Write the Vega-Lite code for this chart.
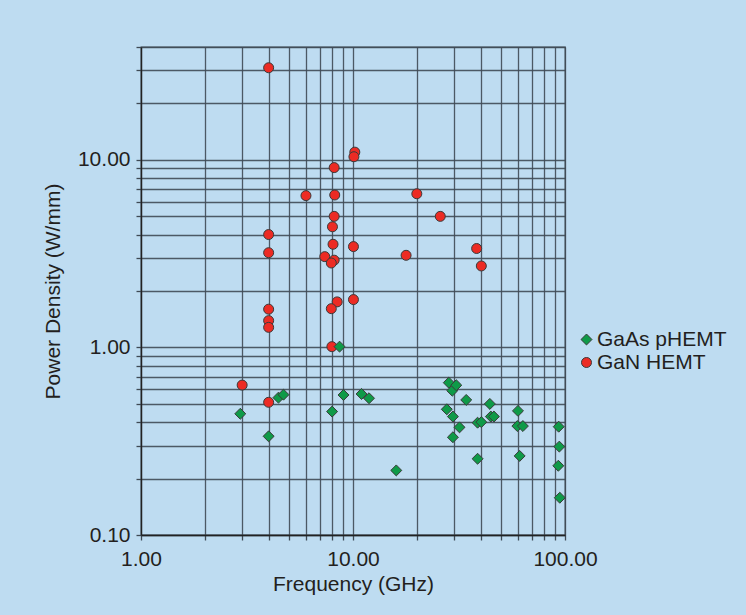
{
  "$schema": "https://vega.github.io/schema/vega-lite/v6.json",
  "width": 424,
  "height": 488,
  "autosize": "none",
  "padding": {"left": 141, "top": 47, "right": 181, "bottom": 80},
  "background": "#BEDCF1",
  "config": {
    "view": {"stroke": "#3f4a55", "strokeWidth": 1.3},
    "font": "Liberation Sans",
    "axis": {
      "labelFont": "Liberation Sans",
      "labelFontSize": 21,
      "labelColor": "#231f20",
      "titleFont": "Liberation Sans",
      "titleFontSize": 21,
      "titleFontWeight": "normal",
      "titleColor": "#231f20",
      "gridColor": "#3f4a55",
      "gridWidth": 1.3,
      "gridOpacity": 0.9,
      "tickColor": "#3f4a55",
      "tickSize": 5,
      "tickWidth": 1.3,
      "domainColor": "#222222",
      "domainWidth": 1.3,
      "labelOverlap": false,
      "labelFlush": false
    }
  },
  "data": {
    "values": [
      {"device": "GaN HEMT", "freq": 4, "power": 31},
      {"device": "GaN HEMT", "freq": 6, "power": 6.45},
      {"device": "GaN HEMT", "freq": 4, "power": 4.0},
      {"device": "GaN HEMT", "freq": 4, "power": 3.2},
      {"device": "GaN HEMT", "freq": 10.2, "power": 11.0},
      {"device": "GaN HEMT", "freq": 10.1, "power": 10.4},
      {"device": "GaN HEMT", "freq": 8.15, "power": 9.1},
      {"device": "GaN HEMT", "freq": 8.2, "power": 6.5},
      {"device": "GaN HEMT", "freq": 20, "power": 6.6},
      {"device": "GaN HEMT", "freq": 8.15, "power": 5.0},
      {"device": "GaN HEMT", "freq": 25.8, "power": 5.0},
      {"device": "GaN HEMT", "freq": 8.0, "power": 4.4},
      {"device": "GaN HEMT", "freq": 8.05, "power": 3.55},
      {"device": "GaN HEMT", "freq": 10.05, "power": 3.45},
      {"device": "GaN HEMT", "freq": 38.3, "power": 3.37},
      {"device": "GaN HEMT", "freq": 7.36, "power": 3.05},
      {"device": "GaN HEMT", "freq": 17.8, "power": 3.1},
      {"device": "GaN HEMT", "freq": 8.15, "power": 2.92},
      {"device": "GaN HEMT", "freq": 7.9, "power": 2.82},
      {"device": "GaN HEMT", "freq": 40.3, "power": 2.72},
      {"device": "GaN HEMT", "freq": 10.05, "power": 1.8},
      {"device": "GaN HEMT", "freq": 8.42, "power": 1.75},
      {"device": "GaN HEMT", "freq": 7.9, "power": 1.61},
      {"device": "GaN HEMT", "freq": 4, "power": 1.6},
      {"device": "GaN HEMT", "freq": 4, "power": 1.39},
      {"device": "GaN HEMT", "freq": 4, "power": 1.28},
      {"device": "GaN HEMT", "freq": 3.0, "power": 0.63},
      {"device": "GaN HEMT", "freq": 4, "power": 0.51},
      {"device": "GaN HEMT", "freq": 7.95, "power": 1.01},
      {"device": "GaAs pHEMT", "freq": 2.94, "power": 0.443},
      {"device": "GaAs pHEMT", "freq": 4, "power": 0.336},
      {"device": "GaAs pHEMT", "freq": 4.45, "power": 0.54},
      {"device": "GaAs pHEMT", "freq": 4.7, "power": 0.56},
      {"device": "GaAs pHEMT", "freq": 7.97, "power": 0.455},
      {"device": "GaAs pHEMT", "freq": 8.64, "power": 1.01},
      {"device": "GaAs pHEMT", "freq": 9.02, "power": 0.558},
      {"device": "GaAs pHEMT", "freq": 10.97, "power": 0.565},
      {"device": "GaAs pHEMT", "freq": 11.9, "power": 0.536},
      {"device": "GaAs pHEMT", "freq": 16.0, "power": 0.221},
      {"device": "GaAs pHEMT", "freq": 28.3, "power": 0.649},
      {"device": "GaAs pHEMT", "freq": 29.4, "power": 0.588},
      {"device": "GaAs pHEMT", "freq": 30.7, "power": 0.629},
      {"device": "GaAs pHEMT", "freq": 27.7, "power": 0.468},
      {"device": "GaAs pHEMT", "freq": 29.6, "power": 0.428},
      {"device": "GaAs pHEMT", "freq": 31.8, "power": 0.375},
      {"device": "GaAs pHEMT", "freq": 29.6, "power": 0.332},
      {"device": "GaAs pHEMT", "freq": 34.2, "power": 0.525},
      {"device": "GaAs pHEMT", "freq": 38.7, "power": 0.397},
      {"device": "GaAs pHEMT", "freq": 40.3, "power": 0.4},
      {"device": "GaAs pHEMT", "freq": 38.7, "power": 0.255},
      {"device": "GaAs pHEMT", "freq": 44.2, "power": 0.5},
      {"device": "GaAs pHEMT", "freq": 44.7, "power": 0.428},
      {"device": "GaAs pHEMT", "freq": 46.2, "power": 0.428},
      {"device": "GaAs pHEMT", "freq": 60, "power": 0.459},
      {"device": "GaAs pHEMT", "freq": 59.6, "power": 0.381},
      {"device": "GaAs pHEMT", "freq": 63.3, "power": 0.381},
      {"device": "GaAs pHEMT", "freq": 61.1, "power": 0.264},
      {"device": "GaAs pHEMT", "freq": 93.4, "power": 0.378},
      {"device": "GaAs pHEMT", "freq": 94, "power": 0.296},
      {"device": "GaAs pHEMT", "freq": 93, "power": 0.234},
      {"device": "GaAs pHEMT", "freq": 94.5, "power": 0.158}
    ]
  },
  "mark": {"type": "point", "filled": true, "stroke": "#3a3a3a", "strokeWidth": 1, "opacity": 1},
  "encoding": {
    "x": {
      "field": "freq",
      "type": "quantitative",
      "scale": {"type": "log", "domain": [1, 100], "nice": false},
      "axis": {
        "title": "Frequency (GHz)",
        "values": [1, 2, 3, 4, 5, 6, 7, 8, 9, 10, 20, 30, 40, 50, 60, 70, 80, 90, 100],
        "labelExpr": "datum.value == 1 || datum.value == 10 || datum.value == 100 ? format(datum.value, '.2f') : ''",
        "labelPadding": 8,
        "titlePadding": 4
      }
    },
    "y": {
      "field": "power",
      "type": "quantitative",
      "scale": {"type": "log", "domain": [0.1, 40], "nice": false},
      "axis": {
        "title": "Power Density (W/mm)",
        "values": [0.1, 0.2, 0.3, 0.4, 0.5, 0.6, 0.7, 0.8, 0.9, 1, 2, 3, 4, 5, 6, 7, 8, 9, 10, 20, 30, 40],
        "labelExpr": "datum.value == 0.1 || datum.value == 1 || datum.value == 10 ? format(datum.value, '.2f') : ''",
        "labelPadding": 6,
        "titlePadding": 14
      }
    },
    "color": {
      "field": "device",
      "type": "nominal",
      "scale": {"domain": ["GaAs pHEMT", "GaN HEMT"], "range": ["#0F9A48", "#EC2B24"]},
      "legend": {
        "title": null,
        "orient": "none",
        "legendX": 435,
        "legendY": 282,
        "padding": 0,
        "labelFont": "Liberation Sans",
        "labelFontSize": 21,
        "labelColor": "#231f20",
        "symbolSize": 100,
        "symbolStrokeColor": "#3a3a3a",
        "symbolStrokeWidth": 1,
        "labelOffset": 0,
        "rowPadding": 1
      }
    },
    "shape": {
      "field": "device",
      "type": "nominal",
      "scale": {"domain": ["GaAs pHEMT", "GaN HEMT"], "range": ["diamond", "circle"]},
      "legend": {
        "title": null,
        "orient": "none",
        "legendX": 435,
        "legendY": 282,
        "padding": 0,
        "labelFont": "Liberation Sans",
        "labelFontSize": 21,
        "labelColor": "#231f20",
        "symbolSize": 100,
        "symbolStrokeColor": "#3a3a3a",
        "symbolStrokeWidth": 1,
        "labelOffset": 0,
        "rowPadding": 1
      }
    },
    "size": {
      "field": "device",
      "type": "nominal",
      "scale": {"domain": ["GaAs pHEMT", "GaN HEMT"], "range": [120, 100]},
      "legend": null
    }
  }
}
